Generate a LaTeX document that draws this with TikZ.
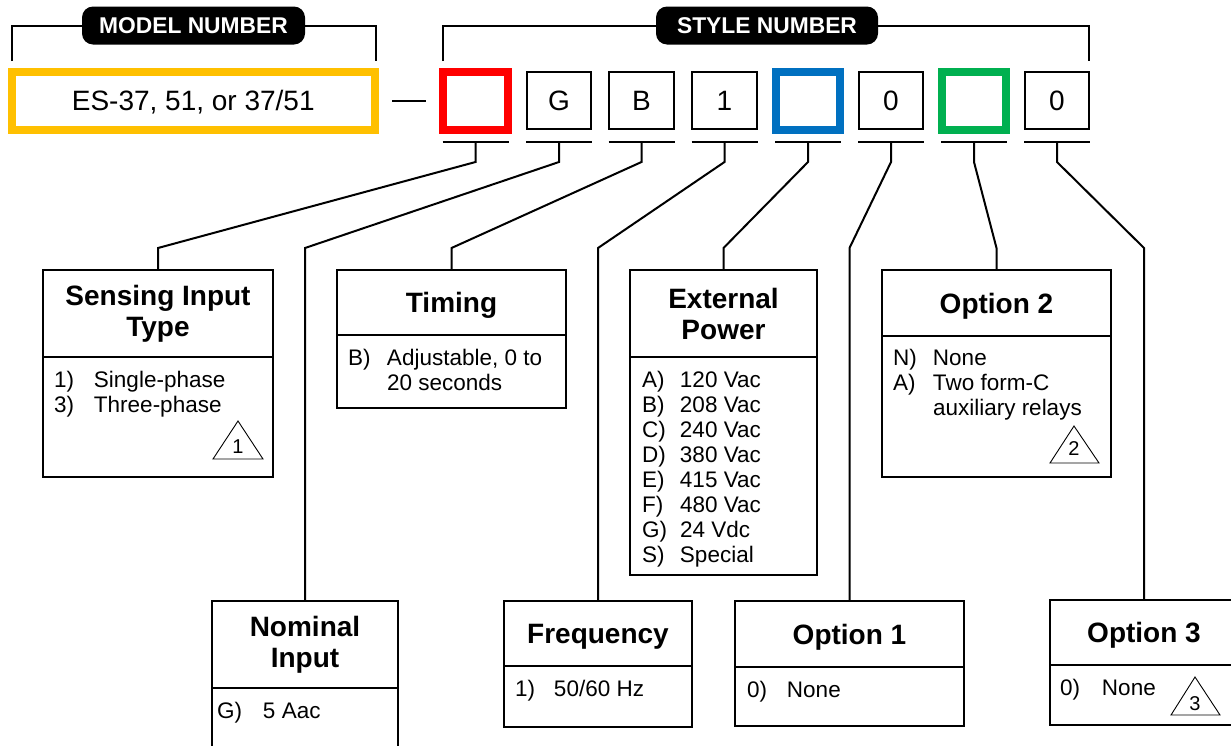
\documentclass[tikz,border=0pt]{standalone}
\usepackage{fontspec}
\setmainfont{Liberation Sans}
\usetikzlibrary{calc}
\definecolor{cyel}{HTML}{FFC000}
\definecolor{cred}{HTML}{FF0000}
\definecolor{cblu}{HTML}{0070C0}
\definecolor{cgrn}{HTML}{00B050}
\begin{document}
\begin{tikzpicture}[x=1pt,y=-1pt,
  ln/.style={line width=2pt},
  codebox/.style={draw, line width=2pt, minimum width=64.5pt, minimum height=57.5pt,
    inner sep=0pt, outer sep=0pt, text height=20pt, text depth=0pt,
    font=\fontsize{28}{30}\selectfont},
  ccode/.style={codebox, line width=8pt, draw=#1},
  tagbox/.style={fill=black, rounded corners=11pt, text=white, minimum height=38pt,
    inner sep=0pt, outer sep=0pt, text height=16.5pt, text depth=0pt,
    font=\bfseries\fontsize{22.8}{24}\selectfont},
  hdr/.style={draw, line width=2pt, anchor=north, inner sep=0pt, outer sep=0pt,
    align=center, font=\bfseries\fontsize{28}{31}\selectfont},
  hdrone/.style={hdr, text height=20pt, text depth=0pt},
  bdy/.style={draw, line width=2pt, anchor=north, inner sep=0pt, outer sep=0pt},
  itemtxt/.style={anchor=north west, inner sep=0pt, outer sep=0pt,
    font=\fontsize{22.5}{25}\selectfont},
  tribox/.style={line width=0.9pt},
  trinum/.style={inner sep=0pt, outer sep=0pt, font=\fontsize{20}{22}\selectfont}
]
\useasboundingbox (0,0) rectangle (1231,745);
\clip (0,0) rectangle (1231,745);

% ---------- top: model number ----------
\node[tagbox, minimum width=223pt] (mtag) at (193.5,25.5) {MODEL NUMBER};
\coordinate (mL) at (11.7,61);
\coordinate (mR) at (376,61);
\draw[ln] (mL) |- (mtag.west);
\draw[ln] (mtag.east) -| (mR);

\node[draw=cyel, line width=8pt, minimum width=363.5pt, minimum height=57.5pt,
  inner sep=0pt, outer sep=0pt, text height=20pt, text depth=0pt,
  font=\fontsize{28}{30}\selectfont] (model) at (193.25,100.75) {ES-37, 51, or 37/51};

\coordinate (d1) at (392,100.5);
\coordinate (d2) at (426,100.5);
\draw[ln] (d1) -- (d2);

% ---------- top: style number ----------
\node[tagbox, minimum width=222pt] (stag) at (767,25.5) {STYLE NUMBER};
\coordinate (sL) at (443,61);
\coordinate (sR) at (1089,61);
\draw[ln] (sL) |- (stag.west);
\draw[ln] (stag.east) -| (sR);

\node[ccode=cred] (c1) at (475.5,100.75) {};
\node[codebox] (c2) at (559,100.5) {G};
\node[codebox] (c3) at (641.5,100.5) {B};
\node[codebox] (c4) at (724.5,100.5) {1};
\node[ccode=cblu] (c5) at (808,100.75) {};
\node[codebox] (c6) at (891,100.5) {0};
\node[ccode=cgrn] (c7) at (974,100.75) {};
\node[codebox] (c8) at (1057,100.5) {0};

% underlines
\coordinate (u1) at (475.5,142);
\coordinate (u2) at (559,142);
\coordinate (u3) at (641.5,142);
\coordinate (u4) at (724.5,142);
\coordinate (u5) at (808,142);
\coordinate (u6) at (891,142);
\coordinate (u7) at (974,142);
\coordinate (u8) at (1057,142);
\foreach \u in {u1,u2,u3,u4,u5,u6,u7,u8}{
  \draw[ln] ($(\u)+(-33,0)$) -- ($(\u)+(33,0)$);
}

% ---------- lower boxes, top row ----------
\node[hdr, minimum width=230pt, minimum height=87pt] (sensH) at (158,270) {Sensing Input\\Type};
\node[bdy, minimum width=230pt, minimum height=120pt] (sensB) at (sensH.south) {};
\node[itemtxt] (sensT) at ($(sensB.north west)+(11,12.5)$)
  {\begin{tabular}{@{}p{40pt}@{}l@{}}1) & Single-phase\\3) & Three-phase\end{tabular}};

\node[hdrone, minimum width=229pt, minimum height=65pt] (timH) at (451.5,270) {Timing};
\node[bdy, minimum width=229pt, minimum height=73pt] (timB) at (timH.south) {};
\node[itemtxt] (timT) at ($(timB.north west)+(11,12.5)$)
  {\begin{tabular}{@{}p{39pt}@{}l@{}}B) & Adjustable, 0 to\\ & 20 seconds\end{tabular}};

\node[hdr, minimum width=187pt, minimum height=87pt] (extH) at (723.5,270) {External\\Power};
\node[bdy, minimum width=187pt, minimum height=218pt] (extB) at (extH.south) {};
\node[itemtxt] (extT) at ($(extB.north west)+(12,12.5)$)
  {\begin{tabular}{@{}p{38pt}@{}l@{}}A) & 120 Vac\\B) & 208 Vac\\C) & 240 Vac\\D) & 380 Vac\\
   E) & 415 Vac\\F) & 480 Vac\\G) & 24 Vdc\\S) & Special\end{tabular}};

\node[hdrone, minimum width=229pt, minimum height=66pt] (op2H) at (996.5,270) {Option 2};
\node[bdy, minimum width=229pt, minimum height=141pt] (op2B) at (op2H.south) {};
\node[itemtxt] (op2T) at ($(op2B.north west)+(11,12)$)
  {\begin{tabular}{@{}p{40pt}@{}l@{}}N) & None\\A) & Two form-C\\ & auxiliary relays\end{tabular}};

% ---------- lower boxes, bottom row ----------
\node[hdr, minimum width=186pt, minimum height=87pt] (nomH) at (305,601) {Nominal\\Input};
\node[bdy, minimum width=186pt, minimum height=100pt] (nomB) at (nomH.south) {};
\node[itemtxt] (nomT) at ($(nomB.north west)+(5,13)$)
  {\begin{tabular}{@{}p{46pt}@{}l@{}}G) & 5 Aac\end{tabular}};

\node[hdrone, minimum width=188pt, minimum height=65pt] (freH) at (598,601) {Frequency};
\node[bdy, minimum width=188pt, minimum height=61pt] (freB) at (freH.south) {};
\node[itemtxt] (freT) at ($(freB.north west)+(11,12.5)$)
  {\begin{tabular}{@{}p{39pt}@{}l@{}}1) & 50/60 Hz\end{tabular}};

\node[hdrone, minimum width=229pt, minimum height=66pt] (op1H) at (849.5,601) {Option 1};
\node[bdy, minimum width=229pt, minimum height=59pt] (op1B) at (op1H.south) {};
\node[itemtxt] (op1T) at ($(op1B.north west)+(12,12.5)$)
  {\begin{tabular}{@{}p{40pt}@{}l@{}}0) & None\end{tabular}};

\node[hdrone, minimum width=188pt, minimum height=65pt] (op3H) at (1144,600) {Option 3};
\node[bdy, minimum width=188pt, minimum height=60pt] (op3B) at (op3H.south) {};
\node[itemtxt] (op3T) at ($(op3B.north west)+(10,13)$)
  {\begin{tabular}{@{}p{42pt}@{}l@{}}0) & None\end{tabular}};

% ---------- note triangles ----------
\draw[tribox] (213,459) -- (263,459) -- (238,421) -- cycle;
\node[trinum] (n1) at (238,447) {1};
\draw[tribox] (1050,463) -- (1099,463) -- (1074,426) -- cycle;
\node[trinum] (n2) at (1074,449) {2};
\draw[tribox] (1171,715) -- (1220,715) -- (1195,677) -- cycle;
\node[trinum] (n3) at (1195,704) {3};

% ---------- connectors ----------
\coordinate (k) at (0,248);
\draw[ln] (u1) -- ++(0,20) -- (sensH.north |- k) -- (sensH.north);
\draw[ln] (u2) -- ++(0,20) -- (nomH.north |- k) -- (nomH.north);
\draw[ln] (u3) -- ++(0,20) -- (timH.north |- k) -- (timH.north);
\draw[ln] (u4) -- ++(0,20) -- (freH.north |- k) -- (freH.north);
\draw[ln] (u5) -- ++(0,20) -- (extH.north |- k) -- (extH.north);
\draw[ln] (u6) -- ++(0,20) -- (op1H.north |- k) -- (op1H.north);
\draw[ln] (u7) -- ++(0,20) -- (op2H.north |- k) -- (op2H.north);
\draw[ln] (u8) -- ++(0,20) -- (op3H.north |- k) -- (op3H.north);
\end{tikzpicture}
\end{document}
